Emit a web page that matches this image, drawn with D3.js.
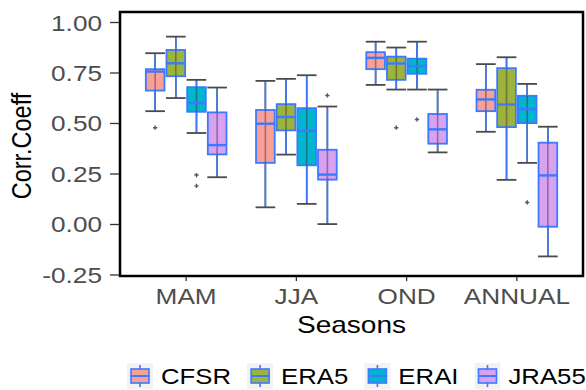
<!DOCTYPE html>
<html>
<head>
<meta charset="utf-8">
<script src="https://cdn.jsdelivr.net/npm/d3@7"></script>
<style>
  html, body { margin: 0; padding: 0; background: #fff; }
  svg { display: block; font-family: "Liberation Sans", Arial, sans-serif; }
</style>
</head>
<body>
<svg id="chart" width="586" height="390"></svg>
<script>
// Seasons on the x axis and reanalysis products in the legend
const seasons = ["MAM", "JJA", "OND", "ANNUAL"];
const products = ["CFSR", "ERA5", "ERAI", "JRA55"];
const productColors = ["#F9A096", "#9DB43C", "#00B6CE", "#D8A2F1"];

// Box statistics per season: [lower whisker, Q1, median, Q3, upper whisker]
const cfsrStats  = [[0.561, 0.663, 0.757, 0.769, 0.848], [0.085, 0.305, 0.499, 0.567, 0.711], [0.691, 0.769, 0.825, 0.853, 0.905], [0.459, 0.561, 0.619, 0.667, 0.794]];
const era5Stats  = [[0.626, 0.734, 0.798, 0.864, 0.930], [0.346, 0.466, 0.532, 0.596, 0.721], [0.668, 0.716, 0.797, 0.831, 0.876], [0.221, 0.482, 0.594, 0.774, 0.828]];
const eraiStats  = [[0.453, 0.558, 0.601, 0.680, 0.716], [0.102, 0.293, 0.463, 0.576, 0.739], [0.668, 0.746, 0.784, 0.821, 0.905], [0.305, 0.502, 0.571, 0.637, 0.696]];
const jra55Stats = [[0.234, 0.347, 0.393, 0.555, 0.678], [0.002, 0.222, 0.247, 0.370, 0.584], [0.357, 0.400, 0.471, 0.547, 0.668], [-0.158, -0.011, 0.243, 0.405, 0.484]];

// Outlying stations per season
const cfsrOutliers  = [[0.479], [], [], []];
const era5Outliers  = [[], [], [0.479], []];
const eraiOutliers  = [[0.245, 0.191], [], [0.520], [0.109]];
const jra55Outliers = [[], [0.639], [], []];

const yTicks = [-0.25, 0, 0.25, 0.5, 0.75, 1.0];

const allStats = [cfsrStats, era5Stats, eraiStats, jra55Stats];
const allOutliers = [cfsrOutliers, era5Outliers, eraiOutliers, jra55Outliers];

const svg = d3.select("#chart");
const panel = { left: 120, right: 583, top: 12, bottom: 276 };

const x = d3.scalePoint().domain(seasons).range([panel.left, panel.right]).padding(0.6);
const dodge = d3.scaleBand().domain(products)
  .range([-0.375 * x.step(), 0.375 * x.step()]).paddingInner(0);
const y = d3.scaleLinear().domain([-0.255, 1.052]).range([panel.bottom, panel.top]);
const color = d3.scaleOrdinal().domain(products).range(productColors);

const blue = "#3C79FF";
const capGray = "#4a4a4a";
const fmt = v => d3.format(".2f")(v).replace("\u2212", "-");

// text widened horizontally by a factor sx
function stretchedText(g, tx, ty, str, opts) {
  return g.append("text")
    .attr("transform", `translate(${tx},${ty}) scale(${opts.sx},1)`)
    .attr("text-anchor", opts.anchor || "start")
    .attr("font-size", opts.size)
    .attr("fill", opts.fill || "#000")
    .text(str);
}

// Rows for drawing
const rows = [];
products.forEach((p, pi) => {
  seasons.forEach((s, si) => {
    const [lo, q1, med, q3, hi] = allStats[pi][si];
    rows.push({ product: p, season: s, lo, q1, med, q3, hi, outliers: allOutliers[pi][si] });
  });
});

const plot = svg.append("g");
const bw = dodge.bandwidth();
const cx = d => x(d.season) + dodge(d.product) + bw / 2;

const boxes = plot.selectAll("g.box").data(rows).join("g").attr("class", "box");

// error bar: full vertical span with caps
boxes.append("line")
  .attr("x1", cx).attr("x2", cx)
  .attr("y1", d => y(d.hi)).attr("y2", d => y(d.lo))
  .attr("stroke", capGray).attr("stroke-width", 1.6);
boxes.append("line")
  .attr("x1", d => cx(d) - bw / 2 + 0.5).attr("x2", d => cx(d) + bw / 2 - 0.5)
  .attr("y1", d => y(d.hi)).attr("y2", d => y(d.hi))
  .attr("stroke", capGray).attr("stroke-width", 1.8);
boxes.append("line")
  .attr("x1", d => cx(d) - bw / 2 + 0.5).attr("x2", d => cx(d) + bw / 2 - 0.5)
  .attr("y1", d => y(d.lo)).attr("y2", d => y(d.lo))
  .attr("stroke", capGray).attr("stroke-width", 1.8);

// whiskers
boxes.append("line")
  .attr("x1", cx).attr("x2", cx)
  .attr("y1", d => y(d.hi) + 1).attr("y2", d => y(d.q3))
  .attr("stroke", blue).attr("stroke-width", 1.6);
boxes.append("line")
  .attr("x1", cx).attr("x2", cx)
  .attr("y1", d => y(d.q1)).attr("y2", d => y(d.lo) - 1)
  .attr("stroke", blue).attr("stroke-width", 1.6);

// boxes
boxes.append("rect")
  .attr("x", d => cx(d) - bw / 2 + 1).attr("width", bw - 2)
  .attr("y", d => y(d.q3)).attr("height", d => y(d.q1) - y(d.q3))
  .attr("fill", d => color(d.product))
  .attr("stroke", blue).attr("stroke-width", 1.8);
// the central line showing through the box
boxes.append("line")
  .attr("x1", cx).attr("x2", cx)
  .attr("y1", d => y(d.q3)).attr("y2", d => y(d.q1))
  .attr("stroke", "#3a2a3a").attr("stroke-opacity", 0.45).attr("stroke-width", 1.6);
// median
boxes.append("line")
  .attr("x1", d => cx(d) - bw / 2 + 1).attr("x2", d => cx(d) + bw / 2 - 1)
  .attr("y1", d => y(d.med)).attr("y2", d => y(d.med))
  .attr("stroke", blue).attr("stroke-width", 2.4);

// outliers
boxes.each(function (d) {
  d3.select(this).selectAll("path.out").data(d.outliers).join("path")
    .attr("class", "out")
    .attr("transform", v => `translate(${cx(d)},${y(v)})`)
    .attr("d", d3.symbol(d3.symbolCross, 10))
    .attr("fill", "#4d5670");
});

// panel border
svg.append("rect")
  .attr("x", panel.left).attr("y", panel.top)
  .attr("width", panel.right - panel.left).attr("height", panel.bottom - panel.top)
  .attr("fill", "none").attr("stroke", "#000").attr("stroke-width", 2.5);

// y axis ticks and labels
const yAxis = svg.append("g");
yTicks.forEach(v => {
  yAxis.append("line").attr("x1", 110).attr("x2", panel.left - 1)
    .attr("y1", y(v)).attr("y2", y(v)).attr("stroke", "#333").attr("stroke-width", 1.3);
  stretchedText(yAxis, 102, y(v) + 8, fmt(v), { anchor: "end", size: 22, sx: 1.19, fill: "#4D4D4D" });
});

// x axis ticks and labels
const xAxis = svg.append("g");
seasons.forEach(s => {
  xAxis.append("line").attr("x1", x(s)).attr("x2", x(s))
    .attr("y1", panel.bottom + 1).attr("y2", panel.bottom + 5).attr("stroke", "#333").attr("stroke-width", 1.3);
  stretchedText(xAxis, x(s), 304, s, { anchor: "middle", size: 22, sx: 1.19, fill: "#4D4D4D" });
});

// axis titles
stretchedText(svg, (panel.left + panel.right) / 2, 333, "Seasons", { anchor: "middle", size: 23, sx: 1.22 });
svg.append("text")
  .attr("transform", "translate(31,146) rotate(-90) scale(1,1.18)")
  .attr("text-anchor", "middle").attr("font-size", 23.5).attr("fill", "#000")
  .text("Corr.Coeff");

// legend
const legend = svg.append("g");
let lx = 127;
const keyW = 26, keyH = 26, keyTop = 363;
products.forEach(p => {
  const k = legend.append("g");
  k.append("rect").attr("x", lx).attr("y", keyTop).attr("width", keyW).attr("height", keyH).attr("fill", "#F2F2F2");
  const kc = lx + keyW / 2;
  k.append("line").attr("x1", kc).attr("x2", kc).attr("y1", keyTop + 2).attr("y2", keyTop + keyH - 2)
    .attr("stroke", blue).attr("stroke-width", 1.6);
  k.append("rect").attr("x", lx + 4).attr("y", keyTop + 6).attr("width", keyW - 8).attr("height", keyH - 12)
    .attr("fill", color(p)).attr("stroke", blue).attr("stroke-width", 1.6);
  k.append("line").attr("x1", lx + 4).attr("x2", lx + keyW - 4).attr("y1", keyTop + keyH / 2).attr("y2", keyTop + keyH / 2)
    .attr("stroke", blue).attr("stroke-width", 2);
  const t = stretchedText(legend, lx + keyW + 8, 384, p, { size: 23, sx: 1.12 });
  const w = t.node().getComputedTextLength() * 1.12;
  lx = lx + keyW + 8 + w + 16;
});
</script>
</body>
</html>
